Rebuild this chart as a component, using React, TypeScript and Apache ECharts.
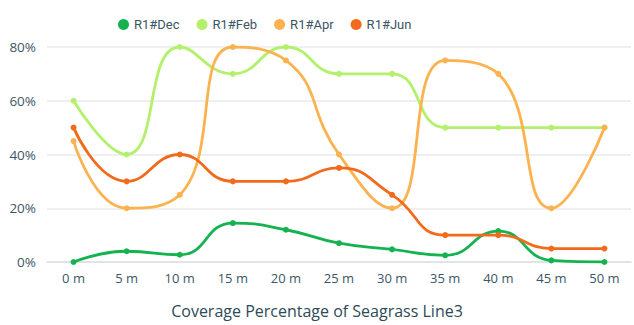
import React, { useEffect, useRef } from "react";
import * as echarts from "echarts";

const depths = ["0 m", "5 m", "10 m", "15 m", "20 m", "25 m", "30 m", "35 m", "40 m", "45 m", "50 m"];
const dec = [0, 4, 2.7, 14.5, 12, 7, 4.7, 2.5, 11.5, 0.6, 0];
const feb = [60, 40, 80, 70, 80, 70, 70, 50, 50, 50, 50];
const apr = [45, 20, 25, 80, 75, 40, 20, 75, 70, 20, 50];
const jun = [50, 30, 40, 30, 30, 35, 25, 10, 10, 5, 5];
const seriesNames = ["R1#Dec", "R1#Feb", "R1#Apr", "R1#Jun"];
const seriesColors = ["#15b350", "#b3f06b", "#fbb24f", "#f26b1d"];

export default function App() {
  const ref = useRef<HTMLDivElement>(null);
  useEffect(() => {
    if (!ref.current) return;
    const chart = echarts.init(ref.current, null, { renderer: "svg" });
    const values = [dec, feb, apr, jun];
    chart.setOption({
      animation: false,
      title: {
        text: "Coverage Percentage of Seagrass Line3",
        left: "center",
        bottom: 1,
        textStyle: { fontFamily: "Open Sans", fontSize: 16, fontWeight: "normal", color: "#2d4b58" },
      },
      legend: {
        top: 13,
        left: 113,
        icon: "circle",
        itemWidth: 11,
        itemHeight: 11,
        itemGap: 17,
        textStyle: { fontFamily: "Roboto", fontSize: 13, color: "#3a5563" },
        data: seriesNames,
      },
      grid: { left: 47, right: 3, top: 47, bottom: 63 },
      xAxis: {
        type: "category",
        data: depths,
        boundaryGap: true,
        axisLine: { lineStyle: { color: "#dde1e4", width: 1.5 } },
        axisTick: { show: false },
        axisLabel: { fontFamily: "Open Sans", fontSize: 13, color: "#3d5665", margin: 9 },
      },
      yAxis: {
        type: "value",
        min: 0,
        max: 80,
        interval: 20,
        axisLabel: { formatter: "{value}%", fontFamily: "Open Sans", fontSize: 13.5, color: "#3d5665", margin: 11 },
        splitLine: { lineStyle: { color: "#e8eaed", width: 1.5 } },
        axisLine: { show: false },
        axisTick: { show: false },
      },
      series: seriesNames.map((name, i) => ({
        name,
        type: "line",
        smooth: 0.5,
        data: values[i],
        symbol: "circle",
        symbolSize: 6,
        color: seriesColors[i],
        lineStyle: { width: 2.8, color: seriesColors[i] },
        itemStyle: { color: seriesColors[i] },
      })),
    });
    return () => chart.dispose();
  }, []);
  return <div ref={ref} style={{ width: 634, height: 325, position: "absolute", left: 0, top: 0 }} />;
}
